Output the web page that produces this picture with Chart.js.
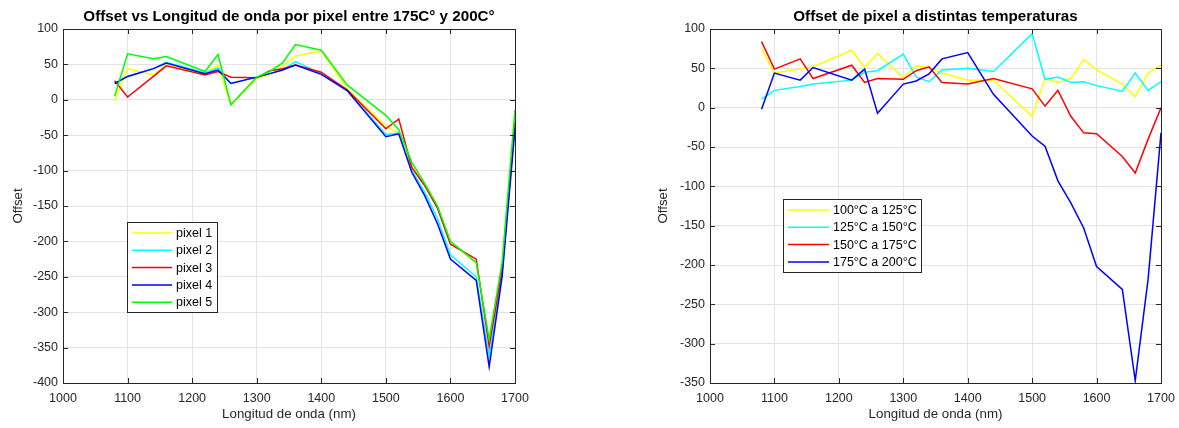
<!DOCTYPE html>
<html>
<head>
<meta charset="utf-8">
<script src="https://cdn.jsdelivr.net/npm/chart.js@4/dist/chart.umd.min.js"></script>
<style>
  html, body { margin: 0; padding: 0; background: #ffffff; }
  #wrap { position: relative; width: 1179px; height: 428px; overflow: hidden; }
  canvas { position: absolute; top: 0; }
</style>
</head>
<body>
<div id="wrap">
  <canvas id="c1" width="590" height="428" style="left:0px"></canvas>
  <canvas id="c2" width="600" height="428" style="left:590px"></canvas>
</div>
<script>
// ---------- data ----------
const wavelengths = [1080,1100,1140,1160,1220,1240,1260,1300,1320,1340,1360,1400,1440,1500,1520,1540,1560,1580,1600,1640,1660,1680,1700];

const pixel1 = [-2, 44, 35, 49, 37, 49, -7, 30, 35, 47, 62, 69, 16, -37, -48, -90, -118, -151, -200, -230, -343, -235, -20];
const pixel2 = [23, 33, 44, 53, 38, 45, 23, 32, 37, 42, 54, 37, 14, -49, -47, -99, -130, -168, -219, -250, -362, -245, -30];
const pixel3 = [27, 4, 33, 48, 35, 40, 32, 31, 41, 44, 49, 39, 14, -41, -27, -95, -121, -153, -204, -225, -348, -240, -33];
const pixel4 = [23, 33, 44, 52, 37, 42, 23, 32, 37, 42, 49, 36, 13, -52, -48, -102, -135, -175, -225, -255, -377, -250, -40];
const pixel5 = [5, 65, 58, 61, 40, 64, -7, 32, 40, 52, 78, 70, 21, -22, -42, -88, -118, -150, -200, -230, -338, -230, -14];

const t100a125 = [75, 44, 49, 52, 73, 51, 69, 38, 53, 51, 44, 35, 35, -11, 37, 32, 37, 61, 48, 30, 14, 44, 54];
const t125a150 = [11, 22, 27, 30, 35, 45, 47, 68, 39, 33, 48, 50, 46, 94, 36, 39, 32, 33, 28, 21, 44, 22, 33];
const t150a175 = [84, 49, 62, 37, 54, 32, 37, 36, 47, 52, 32, 30, 37, 24, 2, 22, -11, -32, -33, -62, -83, -40, 0];
const t175a200 = [-2, 44, 35, 51, 35, 49, -7, 30, 34, 43, 62, 70, 17, -36, -49, -93, -121, -153, -202, -231, -347, -218, -32];

const labelsLeft = ['pixel 1', 'pixel 2', 'pixel 3', 'pixel 4', 'pixel 5'];
const labelsRight = ['100°C a 125°C', '125°C a 150°C', '150°C a 175°C', '175°C a 200°C'];

const titleLeft = 'Offset vs Longitud de onda por pixel entre 175C° y 200C°';
const titleRight = 'Offset de pixel a distintas temperaturas';
const xTitle = 'Longitud de onda (nm)';
const yTitle = 'Offset';

const xTicks = [1000, 1100, 1200, 1300, 1400, 1500, 1600, 1700];
const yTicksLeft = [100, 50, 0, -50, -100, -150, -200, -250, -300, -350, -400];
const yTicksRight = [100, 50, 0, -50, -100, -150, -200, -250, -300, -350];

// ---------- style ----------
const FONT = '"Liberation Sans", Arial, Helvetica, sans-serif';
const AXIS_COLOR = '#262626';
const GRID_COLOR = '#e3e3e3';

function pts(arr) { return wavelengths.map((x, i) => ({ x: x, y: arr[i] })); }

function mkDataset(label, arr, color, order) {
  return {
    label: label, data: pts(arr), borderColor: color, backgroundColor: color,
    borderWidth: 1.5, pointRadius: 0, tension: 0, fill: false, order: order
  };
}

const framePlugin = {
  id: 'frame',
  afterDatasetsDraw(chart, args, opts) {
    const ctx = chart.ctx;
    const a = chart.chartArea;
    const xs = chart.scales.x, ys = chart.scales.y;
    ctx.save();
    ctx.strokeStyle = AXIS_COLOR;
    ctx.lineWidth = 1;
    ctx.strokeRect(Math.round(a.left) + 0.5, Math.round(a.top) + 0.5,
                   Math.round(a.right - a.left), Math.round(a.bottom - a.top));
    const L = 5;
    ctx.beginPath();
    xs.ticks.forEach(t => {
      const px = Math.round(xs.getPixelForValue(t.value)) + 0.5;
      ctx.moveTo(px, a.bottom); ctx.lineTo(px, a.bottom - L);
      ctx.moveTo(px, a.top); ctx.lineTo(px, a.top + L);
    });
    ys.ticks.forEach(t => {
      const py = Math.round(ys.getPixelForValue(t.value)) + 0.5;
      ctx.moveTo(a.left, py); ctx.lineTo(a.left + L, py);
      ctx.moveTo(a.right, py); ctx.lineTo(a.right - L, py);
    });
    ctx.stroke();

    // title
    ctx.fillStyle = '#000000';
    ctx.font = 'bold 15.2px ' + FONT;
    ctx.textAlign = 'center';
    ctx.textBaseline = 'middle';
    ctx.fillText(opts.title, (a.left + a.right) / 2, opts.titleY);

    // legend
    const lg = opts.legend;
    ctx.fillStyle = '#ffffff';
    ctx.fillRect(lg.x, lg.y, lg.w, lg.h);
    ctx.strokeStyle = AXIS_COLOR;
    ctx.lineWidth = 1;
    ctx.strokeRect(lg.x + 0.5, lg.y + 0.5, lg.w, lg.h);
    ctx.font = '12.5px ' + FONT;
    ctx.textAlign = 'left';
    ctx.textBaseline = 'middle';
    chart.data.datasets.forEach((ds, i) => {
      const cy = lg.y + lg.firstRow + i * lg.rowH;
      ctx.strokeStyle = ds.borderColor;
      ctx.lineWidth = 1.5;
      ctx.beginPath();
      ctx.moveTo(lg.x + 5, cy); ctx.lineTo(lg.x + 5 + lg.lineLen, cy);
      ctx.stroke();
      ctx.fillStyle = '#000000';
      ctx.fillText(ds.label, lg.x + 9 + lg.lineLen, cy + 0.5);
    });
    ctx.restore();
  }
};

function mkOptions(yMin, yMax, yTickList, yAxisWidth, padRight, yTitlePad, titleText, legendCfg) {
  return {
    responsive: false,
    animation: false,
    devicePixelRatio: 1,
    layout: { padding: { top: 29, right: padRight, left: 0, bottom: 0 } },
    plugins: {
      legend: { display: false },
      tooltip: { enabled: false },
      title: { display: false },
      frame: { title: titleText, titleY: 17, legend: legendCfg }
    },
    scales: {
      x: {
        type: 'linear', min: 1000, max: 1700,
        afterBuildTicks(scale) { scale.ticks = xTicks.map(v => ({ value: v })); },
        afterFit(scale) { scale.height = 45; },
        grid: { color: GRID_COLOR, drawTicks: false, lineWidth: 1 },
        border: { display: false },
        ticks: { color: AXIS_COLOR, font: { family: FONT, size: 12.5 }, padding: 8, maxRotation: 0, autoSkip: false,
                 callback: (v) => String(v) },
        title: { display: true, text: xTitle, color: AXIS_COLOR, font: { family: FONT, size: 13.3 }, padding: { top: 0, bottom: 6 } }
      },
      y: {
        type: 'linear', min: yMin, max: yMax,
        afterBuildTicks(scale) { scale.ticks = yTickList.map(v => ({ value: v })); },
        afterFit(scale) { scale.width = yAxisWidth; },
        grid: { color: GRID_COLOR, drawTicks: false, lineWidth: 1 },
        border: { display: false },
        ticks: { color: AXIS_COLOR, font: { family: FONT, size: 12.5 }, padding: 5, autoSkip: false,
                 callback: (v) => String(v) },
        title: { display: true, text: yTitle, color: AXIS_COLOR, font: { family: FONT, size: 13.3 }, padding: { top: yTitlePad, bottom: 0 } }
      }
    }
  };
}

const colorsLeft = ['#ffff00', '#00ffff', '#ff0000', '#0000ff', '#00ff00'];
const seriesLeft = [pixel1, pixel2, pixel3, pixel4, pixel5];
new Chart(document.getElementById('c1'), {
  type: 'line',
  data: { datasets: seriesLeft.map((s, i) => mkDataset(labelsLeft[i], s, colorsLeft[i], seriesLeft.length - i)) },
  options: mkOptions(-400, 100, yTicksLeft, 63, 75, 10, titleLeft,
    { x: 127, y: 222, w: 90, h: 90, firstRow: 11, rowH: 17.3, lineLen: 40 }),
  plugins: [framePlugin]
});

const colorsRight = ['#ffff00', '#00ffff', '#ff0000', '#0000ff'];
const seriesRight = [t100a125, t125a150, t150a175, t175a200];
new Chart(document.getElementById('c2'), {
  type: 'line',
  data: { datasets: seriesRight.map((s, i) => mkDataset(labelsRight[i], s, colorsRight[i], seriesRight.length - i)) },
  options: mkOptions(-350, 100, yTicksRight, 120, 29, 65, titleRight,
    { x: 193, y: 199, w: 138, h: 73, firstRow: 11, rowH: 17.3, lineLen: 41 }),
  plugins: [framePlugin]
});
</script>
</body>
</html>
